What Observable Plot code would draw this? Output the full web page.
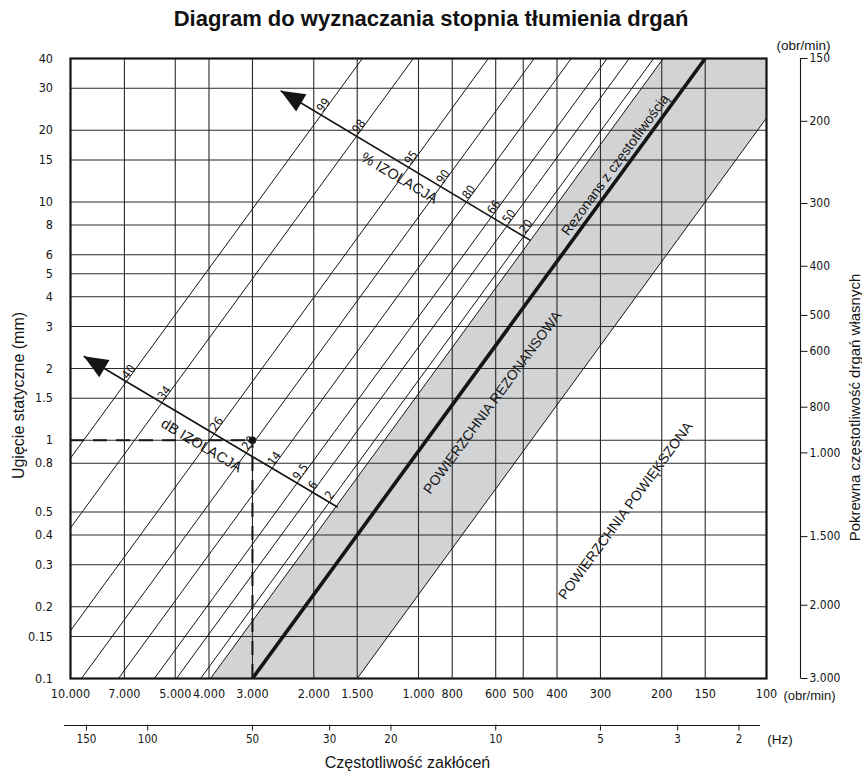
<!DOCTYPE html>
<html><head><meta charset="utf-8">
<script src="https://cdn.jsdelivr.net/npm/d3@7"></script>
<script src="https://cdn.jsdelivr.net/npm/@observablehq/plot@0.6"></script>
<style>
body{margin:0;background:#fff;}
#title{width:862px;height:30px;font:bold 22px 'Liberation Sans',Arial,sans-serif;text-align:center;line-height:38px;color:#111;}
#chart svg{display:block;}
</style></head><body>
<div id="title">Diagram do wyznaczania stopnia tłumienia drgań</div>
<div id="chart"></div>
<script>
// ---------- data ----------
const xTicks = [10000, 7000, 5000, 4000, 3000, 2000, 1500, 1000, 800, 600, 500, 400, 300, 200, 150, 100]; // obr/min (forcing)
const yTicks = [40, 30, 20, 15, 10, 8, 6, 5, 4, 3, 2, 1.5, 1, 0.8, 0.5, 0.4, 0.3, 0.2, 0.15, 0.1]; // mm
const hzTicks = [150, 100, 50, 30, 20, 10, 5, 3, 2]; // Hz
const naturalRpm = [150, 200, 300, 400, 500, 600, 800, 1000, 1500, 2000, 3000];
const naturalRpmDefl = [40, 21.8, 9.85, 5.37, 3.34, 2.36, 1.376, 0.885, 0.394, 0.203, 0.1];
const isoPercent = ["99", "98", "95", "90", "80", "66", "50", "20"];
const isoDb = ["40", "34", "26", "20", "14", "9.5", "6", "2"];
const deflEnds = [0.1, 40];                      // mm, ends of each diagonal
const isoFreqLow = [29000, 20700, 12600, 9300, 7280, 5740, 4960, 4230]; // obr/min at 0.1 mm
const isoFreqHigh = [1450, 1035, 630, 465, 364, 287, 248, 211];         // obr/min at 40 mm
const resonanceFreq = [3000, 150];
const bandLeftFreq = [3960, 198];
const bandRightFreq = [1500, 75];
const pctScaleFreq = [2490, 477], pctScaleDefl = [29.3, 6.9];
const dbScaleFreq = [9160, 1706], dbScaleDefl = [2.25, 0.523];
const example = [{f: 3000, d: 1}];
const notes = [
  {text: "Rezonans z częstotliwością", f: 272, d: 14.3},
  {text: "POWIERZCHNIA REZONANSOWA", f: 613, d: 1.44},
  {text: "POWIERZCHNIA POWIĘKSZONA", f: 254, d: 0.506}
];
const scaleNotes = [
  {text: "% IZOLACJA", f: 1134, d: 12.6},
  {text: "dB IZOLACJA", f: 4204, d: 0.95}
];

// ---------- helpers ----------
const NARROW = "'Liberation Sans Narrow','Arial Narrow','DejaVu Sans Condensed',sans-serif";
const SANS = "'Liberation Sans',Arial,sans-serif";
const fmt = d => d >= 1000 ? d3.format(",")(d).replace(/,/g, ".") : String(d);
const INK = "#151515";
const MID = {textAnchor: "middle", lineAnchor: "middle"};

const isoLines = isoPercent.map((p, i) => ({pct: p, db: isoDb[i], f1: isoFreqLow[i], f2: isoFreqHigh[i]}));

function crossing(sF, sD, f1, f2) {
  const L = Math.log10;
  const ax = L(sF[0]), ay = L(sD[0]), bx = L(sF[1]), by = L(sD[1]);
  const cx = L(f1), cy = L(deflEnds[0]), ex = L(f2), ey = L(deflEnds[1]);
  const d1x = bx - ax, d1y = by - ay, d2x = ex - cx, d2y = ey - cy;
  const t = ((cx - ax) * d2y - (cy - ay) * d2x) / (d1x * d2y - d1y * d2x);
  return {f: 10 ** (ax + t * d1x), d: 10 ** (ay + t * d1y)};
}
const pctLabels = isoLines.map(l => ({...crossing(pctScaleFreq, pctScaleDefl, l.f1, l.f2), t: l.pct}));
const dbLabels = isoLines.map(l => ({...crossing(dbScaleFreq, dbScaleDefl, l.f1, l.f2), t: l.db}));

const tickDown = {draw(c) { c.moveTo(0, -1); c.lineTo(0, 5); }};
const tickRight = {draw(c) { c.moveTo(0, 0); c.lineTo(7, 0); }};
function arrowHead(deg) {
  const a = deg * Math.PI / 180, co = Math.cos(a), si = Math.sin(a);
  const r = ([x, y]) => [x * co - y * si, x * si + y * co];
  return {draw(c) {
    const p = [[0, 0], [-10, 24], [10, 24]].map(r);
    c.moveTo(p[0][0], p[0][1]); c.lineTo(p[1][0], p[1][1]); c.lineTo(p[2][0], p[2][1]); c.closePath();
  }};
}

const band = [
  {f: bandLeftFreq[0], d: deflEnds[0]}, {f: bandLeftFreq[1], d: deflEnds[1]},
  {f: bandRightFreq[1], d: deflEnds[1]}, {f: bandRightFreq[0], d: deflEnds[0]}
];

const chart = Plot.plot({
  width: 862, height: 742,
  marginLeft: 70, marginRight: 96, marginTop: 28, marginBottom: 94,
  x: {type: "log", domain: [10000, 100], axis: null},
  y: {type: "log", domain: [0.1, 40], axis: null},
  style: {fontFamily: NARROW, fontSize: "12.5px", color: INK, background: "#fff"},
  marks: [
    // resonance band
    Plot.line(band, {x: "f", y: "d", fill: "#d2d3d5", stroke: "none", clip: true}),
    // grid
    Plot.ruleX(xTicks, {stroke: "#2a2a2a", strokeWidth: 1.1}),
    Plot.ruleY(yTicks, {stroke: "#2a2a2a", strokeWidth: 1.1}),
    // isolation diagonals
    Plot.link(isoLines, {x1: "f1", y1: () => deflEnds[0], x2: "f2", y2: () => deflEnds[1], stroke: INK, strokeWidth: 1, clip: true}),
    // band edges
    Plot.link([0], {x1: () => bandLeftFreq[0], y1: () => deflEnds[0], x2: () => bandLeftFreq[1], y2: () => deflEnds[1], stroke: INK, strokeWidth: 1, clip: true}),
    Plot.link([0], {x1: () => bandRightFreq[0], y1: () => deflEnds[0], x2: () => bandRightFreq[1], y2: () => deflEnds[1], stroke: INK, strokeWidth: 1, clip: true}),
    // resonance line
    Plot.link([0], {x1: () => resonanceFreq[0], y1: () => deflEnds[0], x2: () => resonanceFreq[1], y2: () => deflEnds[1], stroke: INK, strokeWidth: 3.6, clip: true}),
    // example
    Plot.ruleY(example, {y: "d", x1: () => xTicks[0], x2: "f", stroke: INK, strokeWidth: 2, strokeDasharray: "14,9"}),
    Plot.ruleX(example, {x: "f", y1: () => deflEnds[0], y2: "d", stroke: INK, strokeWidth: 2, strokeDasharray: "14,9"}),
    Plot.dot(example, {x: "f", y: "d", r: 3.8, fill: INK}),
    // isolation scales
    Plot.link([0], {x1: () => pctScaleFreq[0], y1: () => pctScaleDefl[0], x2: () => pctScaleFreq[1], y2: () => pctScaleDefl[1], stroke: INK, strokeWidth: 1.6}),
    Plot.link([0], {x1: () => dbScaleFreq[0], y1: () => dbScaleDefl[0], x2: () => dbScaleFreq[1], y2: () => dbScaleDefl[1], stroke: INK, strokeWidth: 1.6}),
    Plot.dot([0], {x: () => pctScaleFreq[0], y: () => pctScaleDefl[0], symbol: arrowHead(-59.3), fill: INK, stroke: "none"}),
    Plot.dot([0], {x: () => dbScaleFreq[0], y: () => dbScaleDefl[0], symbol: arrowHead(-59.3), fill: INK, stroke: "none"}),
    Plot.text(pctLabels, {x: "f", y: "d", text: "t", rotate: -53.7, textAnchor: "start", lineAnchor: "bottom", dx: 1.5, dy: -2, fontSize: 12, fill: INK}),
    Plot.text(dbLabels, {x: "f", y: "d", text: "t", rotate: -53.7, textAnchor: "start", lineAnchor: "bottom", dx: 1.5, dy: -2, fontSize: 12, fill: INK}),
    Plot.text(scaleNotes, {x: "f", y: "d", text: "text", rotate: 30.7, fontFamily: SANS, fontSize: 14.5, fill: INK}),
    Plot.text(notes, {x: "f", y: "d", text: "text", rotate: -53.7, fontFamily: SANS, fontSize: 14, fill: INK}),
    // frame
    Plot.frame({stroke: INK, strokeWidth: 2.2}),
    // left axis
    Plot.text(yTicks, {y: d => d, text: fmt, frameAnchor: "left", dx: -17.5, textAnchor: "end", lineAnchor: "middle", fill: INK}),
    Plot.text(["Ugięcie statyczne (mm)"], {...MID, text: d => d, frameAnchor: "left", dx: -51.5, dy: 27, rotate: -90, fontFamily: SANS, fontSize: 16, fill: INK}),
    // bottom axis (obr/min)
    Plot.text(xTicks, {...MID, x: d => d, text: fmt, frameAnchor: "bottom", dy: 15.5, fill: INK}),
    Plot.text(["(obr/min)"], {text: d => d, frameAnchor: "bottom-right", dx: 17, dy: 17, textAnchor: "start", lineAnchor: "middle", fontFamily: SANS, fontSize: 13, fill: INK}),
    // Hz axis
    Plot.ruleY([deflEnds[0]], {dy: 47, insetLeft: -6, insetRight: 6, stroke: INK, strokeWidth: 1.1}),
    Plot.dot(hzTicks, {x: d => d * 60, frameAnchor: "bottom", dy: 47, symbol: tickDown, stroke: INK, fill: "none", strokeWidth: 1}),
    Plot.text(hzTicks, {...MID, x: d => d * 60, text: d => String(d), frameAnchor: "bottom", dy: 61, fontSize: 11.5, fill: INK}),
    Plot.text(["(Hz)"], {...MID, text: d => d, frameAnchor: "bottom-right", dx: 13.5, dy: 61, fontFamily: SANS, fontSize: 13.5, fill: INK}),
    Plot.text(["Częstotliwość zakłóceń"], {...MID, text: d => d, frameAnchor: "bottom", dx: -11, dy: 84, fontFamily: SANS, fontSize: 16, fill: INK}),
    // right axis (natural frequency)
    Plot.ruleX([xTicks[xTicks.length - 1]], {dx: 34, stroke: INK, strokeWidth: 1.1}),
    Plot.dot(naturalRpm, {y: (d, i) => naturalRpmDefl[i], frameAnchor: "right", dx: 34, symbol: tickRight, stroke: INK, fill: "none", strokeWidth: 1}),
    Plot.text(naturalRpm, {y: (d, i) => naturalRpmDefl[i], text: fmt, frameAnchor: "right", dx: 43, textAnchor: "start", lineAnchor: "middle", fontSize: 12, fill: INK}),
    Plot.text(["(obr/min)"], {...MID, text: d => d, frameAnchor: "top-right", dx: 37, dy: -13, fontFamily: SANS, fontSize: 13.5, fill: INK}),
    Plot.text(["Pokrewna częstotliwość drgań własnych"], {...MID, text: d => d, frameAnchor: "right", dx: 89, dy: 39, rotate: -90, fontFamily: SANS, fontSize: 15, fill: INK})
  ]
});
document.getElementById("chart").append(chart);
</script>
</body></html>
